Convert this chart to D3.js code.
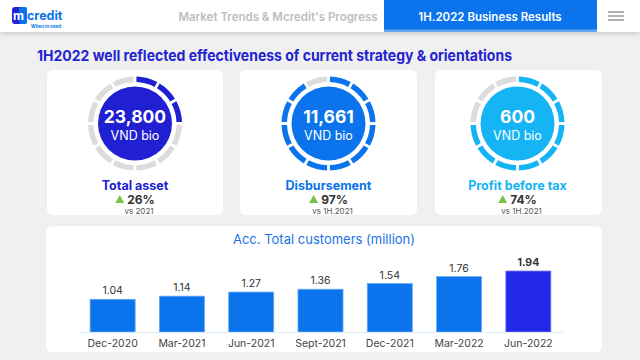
<!DOCTYPE html>
<html><head><meta charset="utf-8">
<script src="https://cdn.jsdelivr.net/npm/d3@7/dist/d3.min.js"></script>
<style>
html,body{margin:0;padding:0;background:#f0f0f0;}
svg{display:block;font-family:Inter, "Noto Sans", sans-serif;}
</style></head><body>
<svg id="c" width="640" height="360"></svg>
<script>
const kpiValues = ["23,800", "11,661", "600"];
const kpiUnit = ["VND bio", "VND bio", "VND bio"];
const kpiLabels = ["Total asset", "Disbursement", "Profit before tax"];
const kpiGrowth = ["26%", "97%", "74%"];
const kpiCompare = ["vs 2021", "vs 1H.2021", "vs 1H.2021"];
const kpiFilledSegments = [3, 11, 9];
const totalSegments = 12;
const kpiColors = ["#2020d2", "#0b74ec", "#14b4f5"];

const months = ["Dec-2020","Mar-2021","Jun-2021","Sept-2021","Dec-2021","Mar-2022","Jun-2022"];
const customers = [1.04, 1.14, 1.27, 1.36, 1.54, 1.76, 1.94];

const svg = d3.select("#c");
const defs = svg.append("defs");
const f = defs.append("filter").attr("id","sh").attr("x","-10%").attr("y","-50%").attr("width","120%").attr("height","200%");
f.append("feDropShadow").attr("dx",0).attr("dy",2).attr("stdDeviation",2).attr("flood-color","#000").attr("flood-opacity",0.15);

// header
svg.append("rect").attr("x",0).attr("y",0).attr("width",640).attr("height",32).attr("fill","#fff").attr("filter","url(#sh)");
svg.append("rect").attr("x",384).attr("y",0).attr("width",213).attr("height",32).attr("fill","#0b74ec");
svg.append("rect").attr("x",384).attr("y",29.5).attr("width",213).attr("height",2.5).attr("fill","#64a8f5");
svg.append("text").attr("x",490).attr("y",21).attr("text-anchor","middle").attr("fill","#fff")
  .attr("font-size",11.5).attr("font-weight",600).text("1H.2022 Business Results");
svg.append("text").attr("x",278).attr("y",21).attr("text-anchor","middle").attr("fill","#bdbdbd")
  .attr("font-size",11.5).attr("font-weight",600).text("Market Trends & Mcredit's Progress");
[12,16,20].forEach(y=>svg.append("rect").attr("x",608).attr("y",y-1).attr("width",16).attr("height",2).attr("fill","#b0b0b0"));
// logo
svg.append("rect").attr("x",12).attr("y",7).attr("width",15).attr("height",17).attr("rx",3).attr("fill","#2323d6");
svg.append("rect").attr("x",19).attr("y",7).attr("width",8).attr("height",17).attr("rx",2).attr("fill","#0b74ec");
svg.append("text").attr("x",18.5).attr("y",20).attr("text-anchor","middle").attr("fill","#fff").attr("font-size",12).attr("font-weight",700).text("m");
svg.append("text").attr("x",27).attr("y",20).attr("fill","#0b74ec").attr("font-size",12.5).attr("font-weight",700).text("credit");
svg.append("text").attr("x",31).attr("y",28).attr("fill","#0b74ec").attr("font-size",4.5).attr("font-weight",700).text("When in need");

// title
svg.append("text").attr("x",37).attr("y",61).attr("fill","#2323d0").attr("font-size",15).attr("font-weight",700)
  .attr("textLength",475).attr("lengthAdjust","spacingAndGlyphs")
  .text("1H2022 well reflected effectiveness of current strategy & orientations");

// KPI cards
const cardX = [47, 240, 435];
const cardW = [176, 177, 167];
const segAngle = 2*Math.PI/totalSegments;
const arc = d3.arc().innerRadius(41.5).outerRadius(47).padAngle(0.045);
kpiValues.forEach((v,i)=>{
  const g = svg.append("g");
  g.append("rect").attr("x",cardX[i]).attr("y",70).attr("width",cardW[i]).attr("height",145).attr("rx",6).attr("fill","#fff");
  const cx = cardX[i] + cardW[i]/2 - (i==2?1:0), cy = 123.5;
  const segs = d3.range(totalSegments).map(k=>({startAngle:k*segAngle, endAngle:(k+1)*segAngle, on:k<kpiFilledSegments[i]}));
  g.selectAll("path.seg").data(segs).join("path").attr("class","seg")
    .attr("transform",`translate(${cx},${cy})`).attr("d",arc)
    .attr("fill",d=>d.on?kpiColors[i]:"#dcdcdc");
  g.append("circle").attr("cx",cx).attr("cy",cy).attr("r",37).attr("fill",kpiColors[i]);
  g.append("text").attr("x",cx).attr("y",123).attr("text-anchor","middle").attr("fill","#fff").attr("font-size",17.5).attr("font-weight",700).text(v);
  g.append("text").attr("x",cx).attr("y",140).attr("text-anchor","middle").attr("fill","#fff").attr("font-size",12.5).text(kpiUnit[i]);
  g.append("text").attr("x",cx).attr("y",189.5).attr("text-anchor","middle").attr("fill",kpiColors[i]).attr("font-size",12.5).attr("font-weight",700).text(kpiLabels[i]);
  const gt = g.append("text").attr("x",cx+6).attr("y",204).attr("text-anchor","middle").attr("fill","#333").attr("font-size",12).attr("font-weight",700).text(kpiGrowth[i]);
  const tw = gt.node().getComputedTextLength();
  const tx = cx+6 - tw/2 - 3;
  g.append("path").attr("d",`M${tx-9},${203} L${tx},${203} L${tx-4.5},${195} Z`).attr("fill","#7cc242");
  g.append("text").attr("x",cx+4).attr("y",214).attr("text-anchor","middle").attr("fill","#555").attr("font-size",8).text(kpiCompare[i]);
});

// bottom chart
svg.append("rect").attr("x",46).attr("y",226).attr("width",556).attr("height",126).attr("rx",6).attr("fill","#fff");
svg.append("text").attr("x",324).attr("y",244).attr("text-anchor","middle").attr("fill","#1a73e8").attr("font-size",13).text("Acc. Total customers (million)");

const x = d3.scaleBand().domain(months).range([78,563]).paddingInner(0.35).paddingOuter(0.175);
const y = d3.scaleLinear().domain([0,1.94]).range([332,271]);
const bars = svg.append("g");
bars.selectAll("rect").data(customers).join("rect")
  .attr("x",(d,i)=>x(months[i])).attr("y",d=>y(d)).attr("width",x.bandwidth()).attr("height",d=>y(0)-y(d))
  .attr("fill",(d,i)=>i==customers.length-1?"#2229e8":"#0b74ec")
  .attr("stroke",(d,i)=>i==customers.length-1?"#7d82f0":"#6aaaf3").attr("stroke-width",0.8);
bars.selectAll("text").data(customers).join("text")
  .attr("x",(d,i)=>x(months[i])+x.bandwidth()/2).attr("y",d=>y(d)-5)
  .attr("text-anchor","middle").attr("fill","#333").attr("font-size",10.5)
  .attr("font-weight",(d,i)=>i==customers.length-1?700:400).text(d=>d.toFixed(2));
const ax = svg.append("g").attr("transform","translate(0,332)").call(d3.axisBottom(x).tickSize(0).tickPadding(8));
ax.select(".domain").attr("stroke","#d8ecfb");
ax.selectAll("text").attr("fill","#444").attr("font-size",10.5).attr("font-family","Inter, 'Noto Sans', sans-serif");
</script>
</body></html>
